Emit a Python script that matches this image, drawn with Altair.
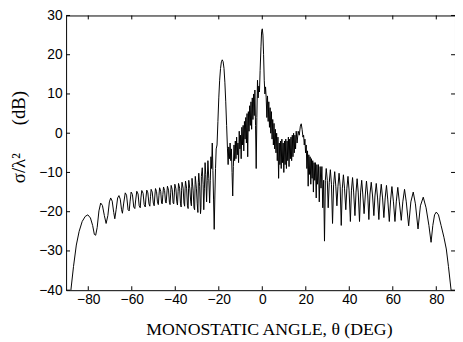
import altair as alt
import pandas as pd

# ---- data (angle in degrees, RCS in dB) ----
left_angle = [-88.0, -86.8, -85.5, -84.2, -82.8, -81.4, -80.2, -79.0, -78.0, -77.2, -76.6, -75.9, -75.1, -74.3,
              -73.5, -72.6, -71.8, -71.0, -70.3, -69.7, -69.0, -68.3, -67.8, -67.2, -66.5, -65.9, -65.3, -64.7,
              -64.3, -63.7, -63.0, -62.4, -61.7, -61.2, -60.8, -60.3, -59.7, -59.1, -58.6, -58.2, -57.7, -57.1,
              -56.6, -56.1, -55.8, -55.4, -54.8, -54.3, -53.8, -53.5, -53.1, -52.6, -52.1, -51.7, -51.4, -51.1,
              -50.6, -50.1, -49.7, -49.4, -49.1, -48.6, -48.2, -47.8, -47.5, -47.2, -46.7, -46.3, -46.0, -45.7,
              -45.4, -44.9, -44.5, -44.2, -43.9, -43.6, -43.1, -42.7, -42.4, -42.1, -41.9, -41.4, -41.0, -40.7,
              -40.4, -40.2, -39.7, -39.3, -39.0, -38.7, -38.5, -38.0, -37.6, -37.3, -37.1, -36.9, -36.4, -36.0,
              -35.7, -35.5, -35.3, -34.8, -34.4, -34.1, -33.9, -33.8, -33.3, -32.9, -32.6, -32.4, -32.3, -31.8,
              -31.4, -31.1, -30.9, -30.8, -30.3, -29.9, -29.6, -29.4, -29.2, -28.8, -28.4, -28.2, -28.0, -27.6,
              -27.2, -26.9, -26.6, -26.3, -26.0, -25.6, -25.3, -25.0, -24.6, -24.2, -23.9, -23.6, -23.3, -23.0,
              -22.7, -22.4, -22.1, -21.8, -21.5, -21.2]
left_db = [-40.0, -34.0, -28.5, -25.0, -22.5, -21.2, -20.8, -21.6, -23.5, -25.8, -26.0, -24.0, -19.8, -17.8,
           -18.4, -21.0, -23.0, -21.0, -17.5, -16.5, -17.3, -20.2, -21.8, -19.5, -16.5, -15.9, -16.8, -19.5,
           -20.4, -17.8, -15.2, -15.8, -19.5, -19.8, -17.5, -15.0, -15.6, -18.8, -19.2, -17.0, -14.8, -15.5,
           -18.5, -19.0, -16.5, -14.6, -15.3, -18.2, -18.8, -16.5, -14.5, -15.2, -18.0, -18.6, -16.2, -14.3,
           -15.0, -17.8, -18.5, -16.0, -14.1, -14.9, -17.5, -18.2, -15.8, -13.9, -14.8, -17.8, -18.0, -15.6,
           -13.7, -14.6, -17.5, -17.8, -15.5, -13.5, -14.5, -17.6, -18.2, -15.2, -13.3, -14.4, -17.8, -18.0,
           -15.0, -13.0, -14.2, -17.5, -18.3, -14.8, -12.8, -14.0, -18.0, -18.8, -14.5, -12.5, -14.0, -17.8,
           -18.6, -14.2, -12.2, -14.0, -18.5, -19.2, -14.0, -12.0, -14.2, -17.5, -18.5, -13.5, -11.5, -14.5,
           -19.0, -19.5, -13.0, -11.0, -14.0, -18.0, -20.2, -12.5, -10.2, -13.5, -20.5, -19.0, -11.0, -8.8,
           -13.0, -19.5, -14.0, -7.5, -10.5, -17.5, -12.0, -7.0, -11.5, -17.8, -12.0, -6.0, -9.0, -2.5,
           -9.5, -17.0, -24.5, -16.0, -9.0, -4.0]

center_angle = [-20.8, -20.4, -20.0, -19.6, -19.2, -18.8, -18.4, -18.0, -17.6, -17.2, -16.8, -16.4, -16.0, -15.7,
                -15.4, -15.1, -14.8, -14.5, -14.2, -13.9, -13.6, -13.3, -13.0, -12.7, -12.4, -12.1, -11.8, -11.5,
                -11.2, -10.9, -10.6, -10.3, -10.0, -9.7, -9.4, -9.1, -8.8, -8.5, -8.2, -7.9, -7.6, -7.3, -7.0,
                -6.7, -6.4, -6.1, -5.8, -5.5, -5.2, -4.9, -4.6, -4.3, -4.0, -3.7, -3.4, -3.1, -2.8, -2.5, -2.2,
                -1.9, -1.6, -1.3, -1.0, -0.6, -0.3, 0.0, 0.3, 0.6, 0.9, 1.2, 1.5, 1.8, 2.1, 2.4, 2.7, 3.0, 3.3,
                3.6, 3.9, 4.2, 4.5, 4.8, 5.1, 5.4, 5.7, 6.0, 6.3, 6.6, 6.9, 7.2, 7.5, 7.8, 8.1, 8.4, 8.7, 9.0,
                9.3, 9.6, 9.9, 10.2, 10.5, 10.8, 11.1, 11.4, 11.7, 12.0, 12.3, 12.6, 12.9, 13.2, 13.5, 13.8, 14.1,
                14.4, 14.7, 15.0, 15.3, 15.6, 16.0, 16.5, 17.0, 17.5, 17.9, 18.3, 18.7, 19.0, 19.3, 19.6, 19.9,
                20.2, 20.5, 20.8, 21.1, 21.4, 21.7, 22.0, 22.3, 22.6, 22.9, 23.2, 23.5, 23.8, 24.1, 24.4, 24.8,
                25.1, 25.4, 25.8, 26.2, 26.6, 27.0, 27.4, 27.8, 28.2, 28.6, 29.0]
center_db = [-3.0, 3.0, 9.0, 13.5, 16.5, 18.2, 18.7, 18.2, 16.5, 13.0, 8.0, 2.0, -4.0, -8.0,
             -3.5, -6.5, -2.5, -7.0, -4.0, -10.0, -16.0, -8.5, -3.0, -7.0, -2.0, -6.5, -1.0, -5.5,
             -2.5, -7.5, 0.5, -4.0, -0.5, -6.5, 1.5, -3.0, 2.0, -4.5, 3.0, -1.5, 4.0, -2.5, 5.0,
             -6.0, 5.5, 0.5, 7.0, 2.0, 8.0, 1.0, 9.0, 3.5, 10.0, 4.5, 11.0, 2.0, -9.0, 4.0, 13.5,
             9.0, 12.0, 10.5, 16.0, 22.0, 26.0, 26.6, 25.0, 20.0, 13.5, 10.0, 11.8, 9.0, 4.0, 9.5, 3.0, 8.0, 1.5,
             6.5, 0.0, 5.5, -1.5, 3.5, -3.0, 2.5, -4.0, 1.0, -5.0, 0.0, -7.0, -1.0, -11.5, -2.5, -8.0, -2.0, -9.0, -1.5,
             -7.5, -2.5, -10.0, -2.0, -8.0, -1.5, -9.0, -2.0, -7.0, -1.0, -8.5, -1.5, -6.5, -1.0, -7.0, -0.5, -6.0,
             0.0, -5.0, -0.5, -4.0, 0.5, -2.5, 0.5, -0.5, 1.8, 2.4, 1.0, -1.0, -0.5, -3.0, -1.5, -5.0,
             -3.0, -9.0, -4.5, -13.5, -5.5, -10.5, -6.0, -13.0, -6.5, -11.5, -7.0, -15.0, -7.5, -12.0, -7.5, -16.5,
             -8.0, -13.0, -8.0, -17.5, -8.5, -14.0, -8.5, -19.0, -12.0, -27.5, -12.0]

right_angle = [29.4, 29.9, 30.3, 30.8, 31.3, 31.8, 32.3, 32.8, 33.3, 33.8, 34.3, 34.8, 35.3, 35.8, 36.3, 36.8,
               37.3, 37.8, 38.4, 38.9, 39.4, 39.9, 40.5, 41.0, 41.5, 42.0, 42.6, 43.1, 43.6, 44.1, 44.7, 45.2,
               45.7, 46.2, 46.8, 47.4, 47.9, 48.5, 49.0, 49.5, 50.1, 50.7, 51.3, 51.8, 52.4, 53.0, 53.6, 54.1,
               54.7, 55.3, 55.9, 56.5, 57.1, 57.7, 58.4, 59.0, 59.6, 60.3, 61.0, 61.6, 62.3, 63.0, 63.9, 64.6,
               65.4, 66.2, 67.3, 68.3, 69.4, 70.4, 71.6, 72.7, 74.0, 75.3, 76.6, 77.6, 78.4, 79.2, 80.0, 81.0,
               82.2, 83.5, 84.6, 85.6, 86.8]
right_db = [-9.0, -12.0, -19.0, -12.5, -9.3, -13.0, -23.0, -13.0, -9.8, -13.5, -18.5, -13.5, -10.2, -13.5, -23.5, -14.0,
            -10.6, -14.0, -19.5, -14.0, -11.0, -14.5, -22.5, -14.5, -11.3, -15.0, -21.0, -15.0, -11.6, -15.0, -22.5, -15.0,
            -12.0, -15.5, -20.5, -15.5, -12.2, -16.0, -22.0, -15.5, -12.5, -16.0, -21.0, -16.0, -12.8, -16.5, -22.0, -16.5,
            -13.0, -16.5, -21.5, -16.5, -13.3, -17.0, -22.5, -17.0, -13.6, -17.5, -22.5, -17.5, -13.8, -17.5, -22.2, -17.5,
            -14.3, -17.5, -23.6, -17.5, -15.0, -18.0, -24.4, -18.5, -16.3, -19.0, -23.5, -27.8, -23.5, -20.8, -20.1, -20.8,
            -23.5, -26.5, -29.5, -34.0, -40.0]

x_ticks = [-80, -60, -40, -20, 0, 20, 40, 60, 80]
y_ticks = [-40, -30, -20, -10, 0, 10, 20, 30]

X_DOMAIN = [-90.2, 88.6]
Y_DOMAIN = [-40, 30]
W, H = 395, 279

curve = pd.DataFrame({
    "angle": left_angle + center_angle + right_angle,
    "rcs": left_db + center_db + right_db,
})
xt = pd.DataFrame({"v": x_ticks})
yt = pd.DataFrame({"v": y_ticks})

xscale = alt.Scale(domain=X_DOMAIN, nice=False, zero=False)
yscale = alt.Scale(domain=Y_DOMAIN, nice=False, zero=False)

NB = "\u00a0"
x_axis = alt.Axis(values=x_ticks, ticks=False, domain=False, grid=False,
                  labelFont="Liberation Sans", labelFontSize=14, labelColor="black",
                  labelPadding=3,
                  title="MONOSTATIC ANGLE, θ (DEG)", titleFont="Liberation Serif",
                  titleFontSize=18, titleFontWeight="normal", titleColor="black",
                  titleX=206, titleY=45, titleBaseline="alphabetic")
y_axis = alt.Axis(values=y_ticks, ticks=False, domain=False, grid=False,
                  labelFont="Liberation Sans", labelFontSize=14, labelColor="black",
                  labelPadding=4,
                  title="σ/λ²" + NB * 6 + "(dB)", titleFont="Liberation Serif",
                  titleFontSize=19, titleFontWeight="normal", titleColor="black",
                  titleAngle=270, titleX=-42, titleY=123, titleAlign="center",
                  titleBaseline="alphabetic")

line = alt.Chart(curve).mark_line(color="black", strokeWidth=1, clip=True).encode(
    x=alt.X("angle:Q", scale=xscale, axis=x_axis),
    y=alt.Y("rcs:Q", scale=yscale, axis=y_axis),
)

tick_bottom = alt.Chart(xt).mark_rule(color="black", strokeWidth=1).encode(
    x=alt.X("v:Q", scale=xscale, axis=x_axis), y=alt.value(H), y2=alt.value(H - 4))
tick_top = alt.Chart(xt).mark_rule(color="black", strokeWidth=1).encode(
    x=alt.X("v:Q", scale=xscale, axis=x_axis), y=alt.value(0), y2=alt.value(4))
tick_left = alt.Chart(yt).mark_rule(color="black", strokeWidth=1).encode(
    y=alt.Y("v:Q", scale=yscale, axis=y_axis), x=alt.value(0), x2=alt.value(4))
tick_right = alt.Chart(yt).mark_rule(color="black", strokeWidth=1).encode(
    y=alt.Y("v:Q", scale=yscale, axis=y_axis), x=alt.value(W), x2=alt.value(W - 4))

chart = alt.layer(line, tick_bottom, tick_top, tick_left, tick_right).properties(
    width=W, height=H,
    autosize=alt.AutoSizeParams(type="none"),
    padding={"left": 59, "top": 5, "right": 0, "bottom": 48},
    background="white",
).configure_view(stroke="black", strokeWidth=1)

chart.save("out.html", embed_options={"renderer": "svg", "actions": False})
